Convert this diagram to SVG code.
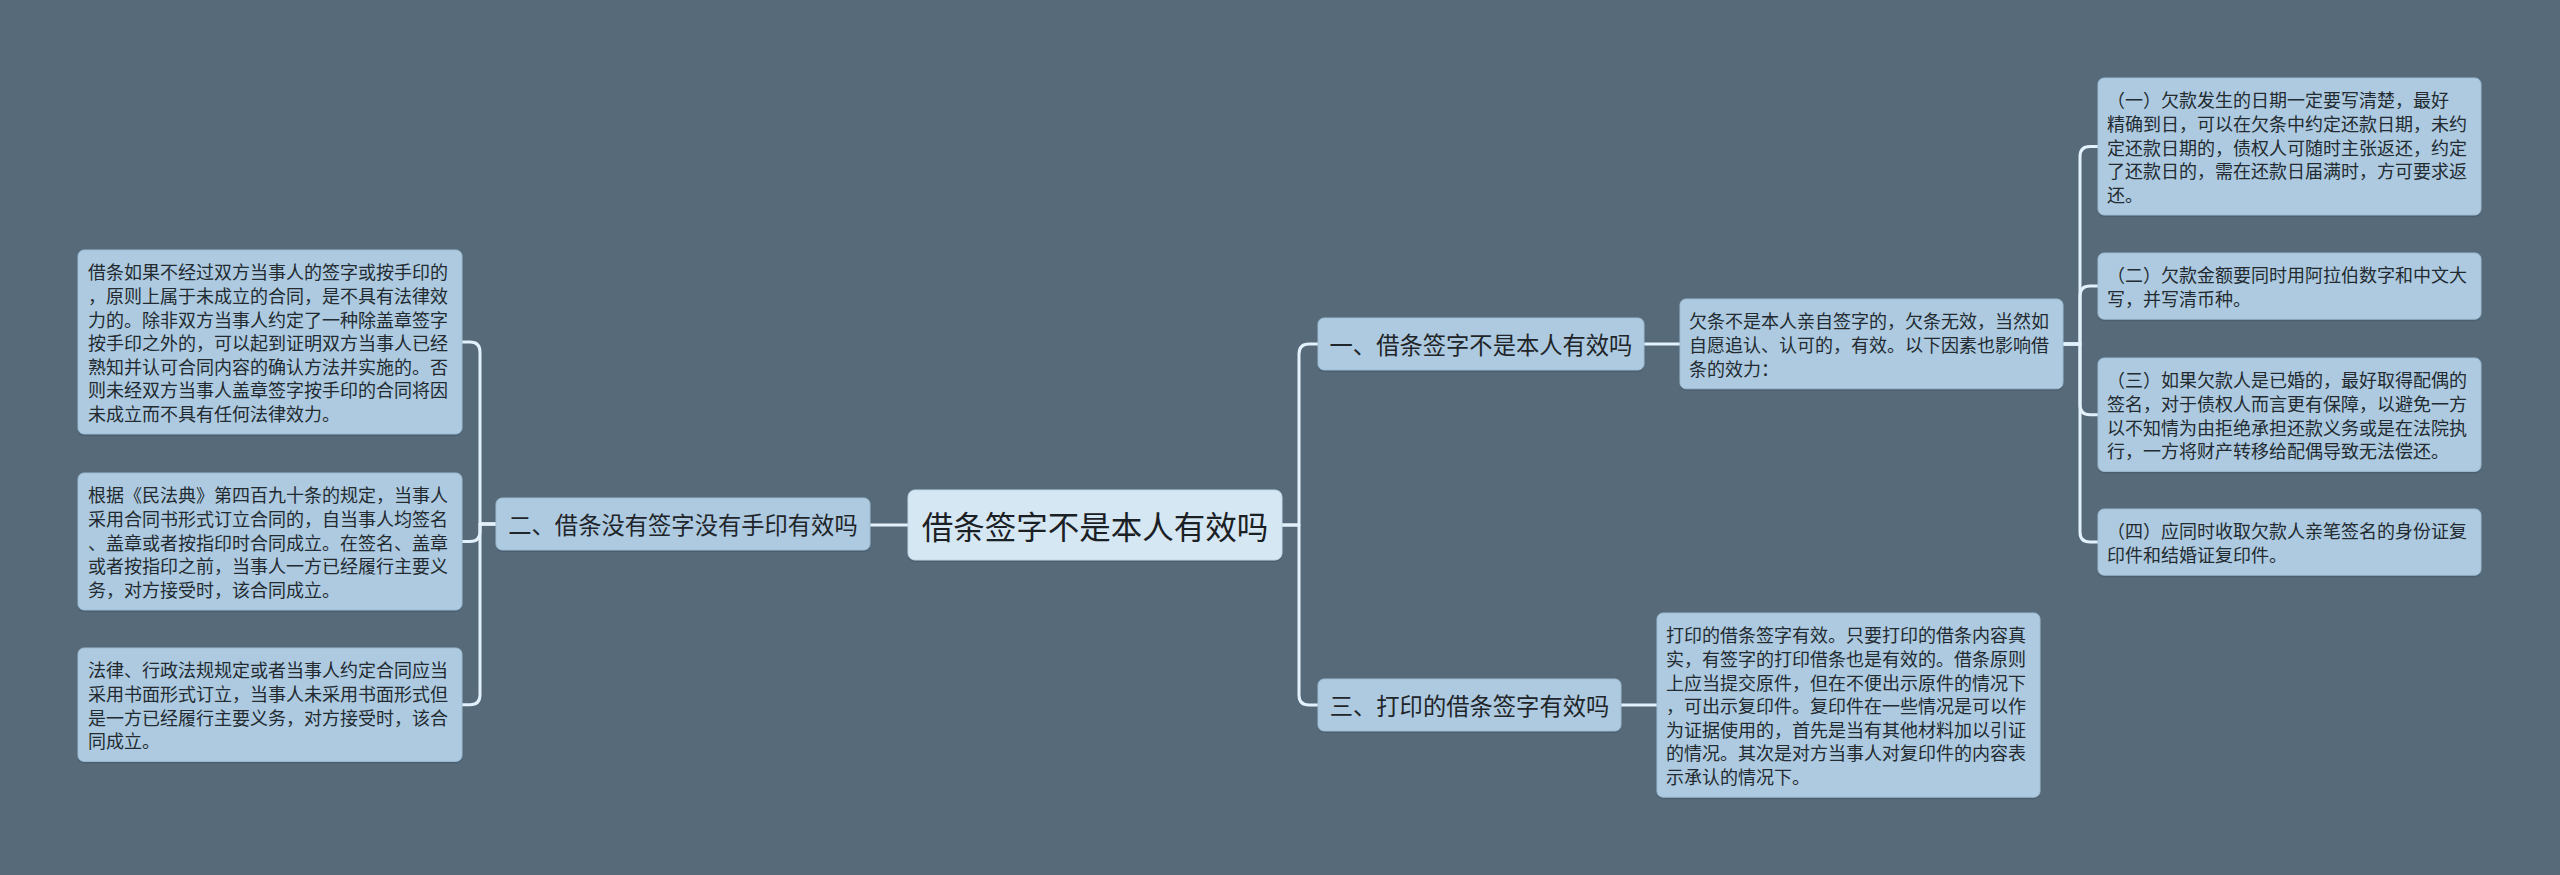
<svg xmlns="http://www.w3.org/2000/svg" width="2560" height="875" viewBox="0 0 2560 875">
<defs>
<style>
.bg{fill:#566a79}
.box{fill:#adcae0;stroke:#9dbbd2;stroke-width:1}
.root{fill:#d4e7f3;stroke:#c2d9e8;stroke-width:1}
.sh{fill:#44596a;opacity:0.6}
.t{font-family:"Noto Sans CJK SC","Noto Sans",sans-serif;fill:#232a30;font-size:18px}
.m{font-family:"Noto Sans CJK SC","Noto Sans",sans-serif;fill:#1f2529;font-size:23.3px;text-anchor:middle}
.r{font-family:"Noto Sans CJK SC","Noto Sans",sans-serif;fill:#1b2024;font-size:31.5px;text-anchor:middle}
.c{fill:none;stroke:#e2f1fb;stroke-width:3;stroke-linecap:round;stroke-linejoin:round}
</style>
</defs>
<rect class="bg" x="0" y="0" width="2560" height="875"/>
<g id="connectors">
<path class="c" d="M908 525 H870"/>
<path class="c" d="M496 524 H480 V352 Q480 342 470 342 H462"/>
<path class="c" d="M496 524 H480 V531.5 Q480 541.5 470 541.5 H462"/>
<path class="c" d="M496 524 H480 V694.7 Q480 704.7 470 704.7 H462"/>
<path class="c" d="M1282 525 H1299 V354 Q1299 344 1309 344 H1318"/>
<path class="c" d="M1282 525 H1299 V695 Q1299 705 1309 705 H1318"/>
<path class="c" d="M1644 344 H1680"/>
<path class="c" d="M1621 705 H1657"/>
<path class="c" d="M2062 344 H2080 V156.5 Q2080 146.5 2090 146.5 H2098"/>
<path class="c" d="M2062 344 H2080 V296 Q2080 286 2090 286 H2098"/>
<path class="c" d="M2062 344 H2080 V404.7 Q2080 414.7 2090 414.7 H2098"/>
<path class="c" d="M2062 344 H2080 V532 Q2080 542 2090 542 H2098"/>
</g>
<g id="root">
<rect class="sh" x="908" y="492" width="374" height="70" rx="7"/>
<rect class="root" x="908" y="490" width="374" height="70" rx="7"/>
<text class="r" x="1095" y="525" dominant-baseline="central">借条签字不是本人有效吗</text>
</g>
<g id="n2">
<rect class="sh" x="496" y="500" width="374" height="52" rx="6"/>
<rect class="box" x="496" y="498" width="374" height="52" rx="6"/>
<text class="m" x="683" y="524" dominant-baseline="central">二、借条没有签字没有手印有效吗</text>
</g>
<g id="n1">
<rect class="sh" x="1318" y="320" width="326" height="52" rx="6"/>
<rect class="box" x="1318" y="318" width="326" height="52" rx="6"/>
<text class="m" x="1481" y="344" dominant-baseline="central">一、借条签字不是本人有效吗</text>
</g>
<g id="n3">
<rect class="sh" x="1318" y="681" width="303" height="52" rx="6"/>
<rect class="box" x="1318" y="679" width="303" height="52" rx="6"/>
<text class="m" x="1469.5" y="705" dominant-baseline="central">三、打印的借条签字有效吗</text>
</g>
<g id="l1">
<rect class="sh" x="78" y="252" width="384" height="184" rx="6"/>
<rect class="box" x="78" y="250" width="384" height="184" rx="6"/>
<text class="t" dominant-baseline="central">
<tspan x="88" y="271.3">借条如果不经过双方当事人的签字或按手印的</tspan>
<tspan x="88" y="294.9">，原则上属于未成立的合同，是不具有法律效</tspan>
<tspan x="88" y="318.5">力的。除非双方当事人约定了一种除盖章签字</tspan>
<tspan x="88" y="342.1">按手印之外的，可以起到证明双方当事人已经</tspan>
<tspan x="88" y="365.7">熟知并认可合同内容的确认方法并实施的。否</tspan>
<tspan x="88" y="389.3">则未经双方当事人盖章签字按手印的合同将因</tspan>
<tspan x="88" y="412.9">未成立而不具有任何法律效力。</tspan>
</text>
</g>
<g id="l2">
<rect class="sh" x="78" y="475" width="384" height="137" rx="6"/>
<rect class="box" x="78" y="473" width="384" height="137" rx="6"/>
<text class="t" dominant-baseline="central">
<tspan x="88" y="494.3">根据《民法典》第四百九十条的规定，当事人</tspan>
<tspan x="88" y="517.9">采用合同书形式订立合同的，自当事人均签名</tspan>
<tspan x="88" y="541.5">、盖章或者按指印时合同成立。在签名、盖章</tspan>
<tspan x="88" y="565.1">或者按指印之前，当事人一方已经履行主要义</tspan>
<tspan x="88" y="588.7">务，对方接受时，该合同成立。</tspan>
</text>
</g>
<g id="l3">
<rect class="sh" x="78" y="650" width="384" height="113.4" rx="6"/>
<rect class="box" x="78" y="648" width="384" height="113.4" rx="6"/>
<text class="t" dominant-baseline="central">
<tspan x="88" y="669.3">法律、行政法规规定或者当事人约定合同应当</tspan>
<tspan x="88" y="692.9">采用书面形式订立，当事人未采用书面形式但</tspan>
<tspan x="88" y="716.5">是一方已经履行主要义务，对方接受时，该合</tspan>
<tspan x="88" y="740.1">同成立。</tspan>
</text>
</g>
<g id="d1">
<rect class="sh" x="1680" y="301" width="383" height="89.8" rx="6"/>
<rect class="box" x="1680" y="299" width="383" height="89.8" rx="6"/>
<text class="t" dominant-baseline="central">
<tspan x="1689" y="320.3">欠条不是本人亲自签字的，欠条无效，当然如</tspan>
<tspan x="1689" y="343.9">自愿追认、认可的，有效。以下因素也影响借</tspan>
<tspan x="1689" y="367.5">条的效力：</tspan>
</text>
</g>
<g id="r1">
<rect class="sh" x="2098" y="80" width="383" height="137" rx="6"/>
<rect class="box" x="2098" y="78" width="383" height="137" rx="6"/>
<text class="t" dominant-baseline="central">
<tspan x="2107" y="99.3">（一）欠款发生的日期一定要写清楚，最好</tspan>
<tspan x="2107" y="122.9">精确到日，可以在欠条中约定还款日期，未约</tspan>
<tspan x="2107" y="146.5">定还款日期的，债权人可随时主张返还，约定</tspan>
<tspan x="2107" y="170.1">了还款日的，需在还款日届满时，方可要求返</tspan>
<tspan x="2107" y="193.7">还。</tspan>
</text>
</g>
<g id="r2">
<rect class="sh" x="2098" y="255" width="383" height="66.2" rx="6"/>
<rect class="box" x="2098" y="253" width="383" height="66.2" rx="6"/>
<text class="t" dominant-baseline="central">
<tspan x="2107" y="274.3">（二）欠款金额要同时用阿拉伯数字和中文大</tspan>
<tspan x="2107" y="297.9">写，并写清币种。</tspan>
</text>
</g>
<g id="r3">
<rect class="sh" x="2098" y="360" width="383" height="113.4" rx="6"/>
<rect class="box" x="2098" y="358" width="383" height="113.4" rx="6"/>
<text class="t" dominant-baseline="central">
<tspan x="2107" y="379.3">（三）如果欠款人是已婚的，最好取得配偶的</tspan>
<tspan x="2107" y="402.9">签名，对于债权人而言更有保障，以避免一方</tspan>
<tspan x="2107" y="426.5">以不知情为由拒绝承担还款义务或是在法院执</tspan>
<tspan x="2107" y="450.1">行，一方将财产转移给配偶导致无法偿还。</tspan>
</text>
</g>
<g id="r4">
<rect class="sh" x="2098" y="511" width="383" height="66.2" rx="6"/>
<rect class="box" x="2098" y="509" width="383" height="66.2" rx="6"/>
<text class="t" dominant-baseline="central">
<tspan x="2107" y="530.3">（四）应同时收取欠款人亲笔签名的身份证复</tspan>
<tspan x="2107" y="553.9">印件和结婚证复印件。</tspan>
</text>
</g>
<g id="p1">
<rect class="sh" x="1657" y="615" width="383" height="184.2" rx="6"/>
<rect class="box" x="1657" y="613" width="383" height="184.2" rx="6"/>
<text class="t" dominant-baseline="central">
<tspan x="1666" y="634.3">打印的借条签字有效。只要打印的借条内容真</tspan>
<tspan x="1666" y="657.9">实，有签字的打印借条也是有效的。借条原则</tspan>
<tspan x="1666" y="681.5">上应当提交原件，但在不便出示原件的情况下</tspan>
<tspan x="1666" y="705.1">，可出示复印件。复印件在一些情况是可以作</tspan>
<tspan x="1666" y="728.7">为证据使用的，首先是当有其他材料加以引证</tspan>
<tspan x="1666" y="752.3">的情况。其次是对方当事人对复印件的内容表</tspan>
<tspan x="1666" y="775.9">示承认的情况下。</tspan>
</text>
</g>
</svg>
